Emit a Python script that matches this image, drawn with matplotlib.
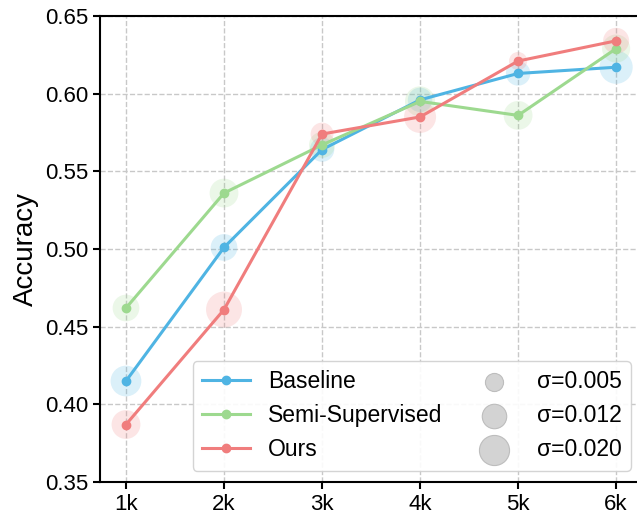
import matplotlib.pyplot as plt
from matplotlib.lines import Line2D
import numpy as np

plt.rcParams['font.family'] = ['Liberation Sans', 'DejaVu Sans']

# data
sizes = [1, 2, 3, 4, 5, 6]
size_labels = ['1k', '2k', '3k', '4k', '5k', '6k']

baseline = [0.415, 0.501, 0.564, 0.596, 0.613, 0.617]
baseline_std = [0.021, 0.015, 0.012, 0.012, 0.012, 0.025]

semi = [0.462, 0.536, 0.567, 0.595, 0.586, 0.629]
semi_std = [0.015, 0.018, 0.014, 0.020, 0.018, 0.017]

ours = [0.387, 0.461, 0.574, 0.585, 0.621, 0.634]
ours_std = [0.018, 0.030, 0.010, 0.023, 0.005, 0.014]

legend_std = [0.005, 0.012, 0.020]

series = [
    ('Baseline', baseline, baseline_std, '#4fb4e3'),
    ('Semi-Supervised', semi, semi_std, '#9dd98f'),
    ('Ours', ours, ours_std, '#f07d7d'),
]


def std_to_area(s):
    return 70 + 20000 * np.asarray(s)


fig = plt.figure(figsize=(6.37, 5.17), dpi=100)
ax = fig.add_axes([0.157, 0.0677, 0.851, 0.9014])

handles = []
for name, vals, std, col in series:
    ax.scatter(sizes, vals, s=std_to_area(std), color=col, alpha=0.2,
               edgecolors='none', zorder=2)
    ln, = ax.plot(sizes, vals, '-o', color=col, lw=2.2, ms=6, zorder=3, label=name)
    handles.append(ln)

for s in legend_std:
    h = ax.scatter([], [], s=std_to_area(s), color='#d3d3d3', edgecolors='#bdbdbd',
                   linewidths=0.8, label='σ={:.3f}'.format(s))
    handles.append(h)

ax.set_xlim(0.735, 6.265)
ax.set_ylim(0.35, 0.65)
ax.set_xticks(sizes)
ax.set_xticklabels(size_labels)
ax.set_yticks(np.arange(0.35, 0.651, 0.05))
ax.yaxis.set_major_formatter(plt.FormatStrFormatter('%.2f'))
ax.tick_params(labelsize=16, length=5, width=1.5)
ax.set_ylabel('Accuracy', fontsize=20)
ax.grid(True, ls='--', color='#c8c8c8', lw=1)
ax.set_axisbelow(True)
for sp in ax.spines.values():
    sp.set_linewidth(1.5)
ax.spines['right'].set_visible(False)

leg = ax.legend(handles=handles, ncol=2, loc='lower right', fontsize=16.5,
                handlelength=2.1, handletextpad=0.8, columnspacing=1.2,
                labelspacing=0.48, framealpha=0.9, scatterpoints=1)
leg.get_frame().set_edgecolor('#d0d0d0')

fig.savefig('out.png', dpi=100)
